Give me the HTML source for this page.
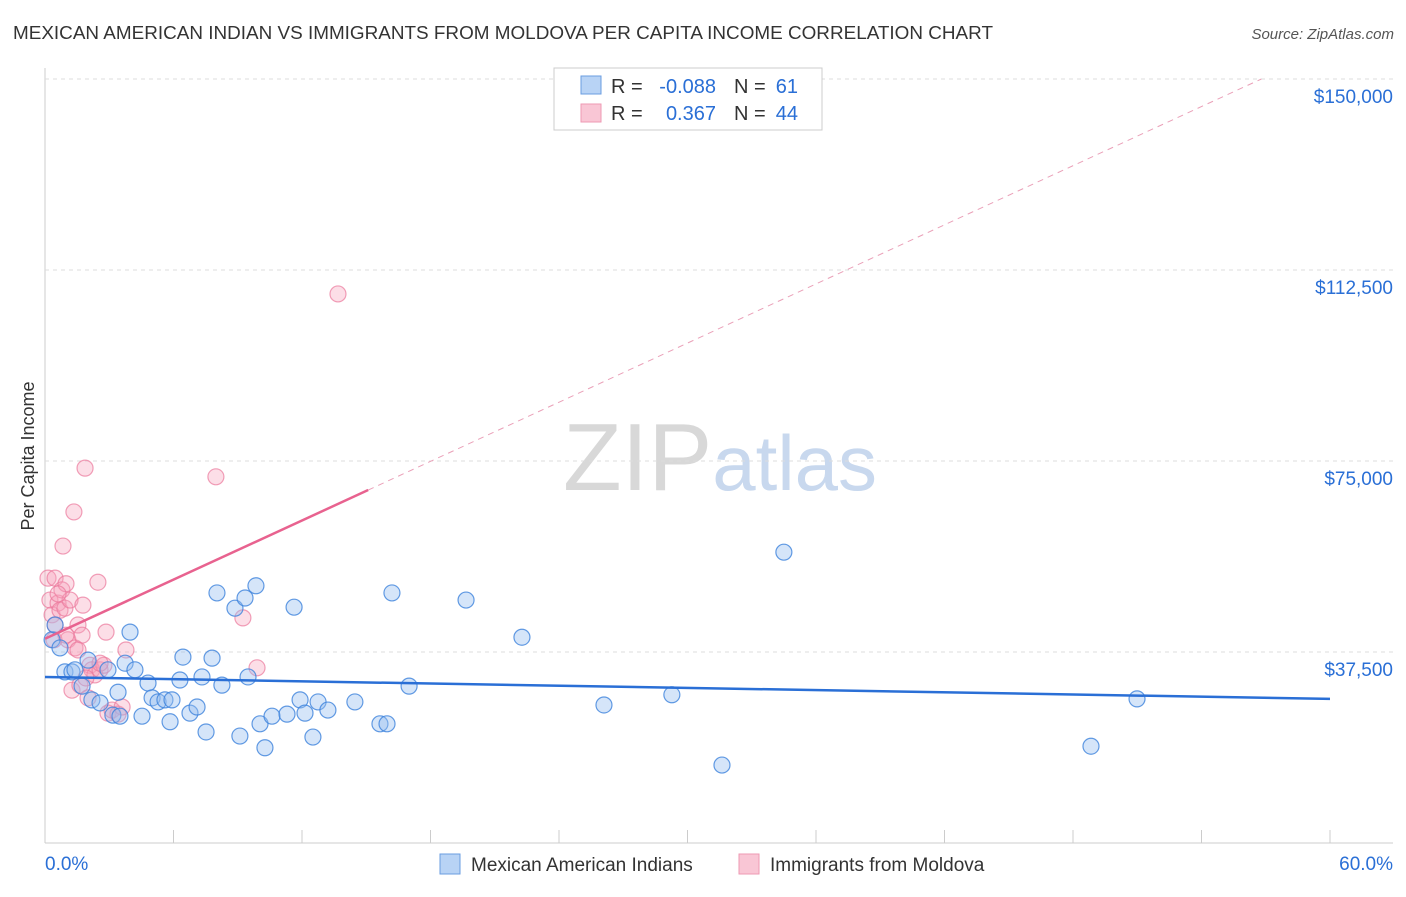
<!DOCTYPE html>
<html><head><meta charset="utf-8"><style>
body{margin:0;background:#fff;font-family:"Liberation Sans",sans-serif;}
svg text{font-family:"Liberation Sans",sans-serif;}
</style></head><body>
<svg id="c" width="1406" height="892" xmlns="http://www.w3.org/2000/svg">
<text x="13" y="39" font-size="18" fill="#333" textLength="980" lengthAdjust="spacingAndGlyphs">MEXICAN AMERICAN INDIAN VS IMMIGRANTS FROM MOLDOVA PER CAPITA INCOME CORRELATION CHART</text>
<text x="1394" y="39" font-size="15" fill="#555" font-style="italic" text-anchor="end">Source: ZipAtlas.com</text>
<text x="34" y="456" font-size="18" fill="#333" transform="rotate(-90 34 456)" text-anchor="middle">Per Capita Income</text>
<text x="720" y="490" font-size="96" fill="#ddd" text-anchor="middle" font-family="Liberation Serif"><tspan fill="#d8d8d8">ZIP</tspan><tspan fill="#c8d8ee" font-family="Liberation Sans" font-size="78">atlas</tspan></text>
<g id="grid"></g><g id="marks"></g>
<g font-size="20">
<rect x="554" y="68" width="268" height="62" fill="#fff" stroke="#ccc"/>
<rect x="581" y="76" width="20" height="18" fill="#b8d3f5" stroke="#6a9de0"/>
<rect x="581" y="104" width="20" height="18" fill="#f9c6d5" stroke="#ee99b3"/>
<text x="611" y="93" fill="#333">R =</text>
<text x="716" y="93" fill="#2a6fd6" text-anchor="end">-0.088</text>
<text x="734" y="93" fill="#333">N =</text>
<text x="798" y="93" fill="#2a6fd6" text-anchor="end">61</text>
<text x="611" y="120" fill="#333">R =</text>
<text x="716" y="120" fill="#2a6fd6" text-anchor="end">0.367</text>
<text x="734" y="120" fill="#333">N =</text>
<text x="798" y="120" fill="#2a6fd6" text-anchor="end">44</text>
</g>
<g>
<rect x="440" y="854" width="20" height="20" fill="#b8d3f5" stroke="#6a9de0"/>
<text x="471" y="871" font-size="19" fill="#333">Mexican American Indians</text>
<rect x="739" y="854" width="20" height="20" fill="#f9c6d5" stroke="#ee99b3"/>
<text x="770" y="871" font-size="19" fill="#333">Immigrants from Moldova</text>
</g>
</svg>
<script>
const blueX=[0.33,0.47,0.70,0.93,1.26,1.40,1.73,2.01,2.19,2.57,2.94,3.17,3.41,3.74,3.97,4.20,4.53,4.81,5.00,5.28,5.60,5.84,5.93,6.30,6.44,6.77,7.10,7.33,7.52,7.80,8.03,8.26,8.87,9.10,9.34,9.48,9.85,10.04,10.27,10.60,11.30,11.63,11.91,12.14,12.51,12.75,13.21,14.47,15.64,15.97,16.20,17.00,19.66,22.27,26.10,29.27,31.61,34.50,48.84,50.99,3.50];
const blueY=[39.9,42.8,38.3,33.6,33.6,34.0,30.8,35.9,28.1,27.5,34.0,25.1,29.6,35.3,41.4,34.0,24.9,31.4,28.5,27.7,28.1,23.8,28.1,32.0,36.5,25.5,26.7,32.6,21.8,36.3,49.1,31.0,46.1,21.0,48.1,32.6,50.5,23.4,18.7,24.9,25.3,46.3,28.1,25.5,20.8,27.7,26.1,27.7,23.4,23.4,49.1,30.8,47.7,40.4,27.1,29.1,15.3,57.1,19.0,28.3,24.9];
const pinkX=[0.14,0.23,0.33,0.47,0.47,0.61,0.70,0.79,0.84,0.93,0.98,1.07,1.17,1.26,1.35,1.40,1.54,1.63,1.73,1.77,1.87,2.01,2.10,2.19,2.33,2.47,2.57,2.75,2.85,2.94,3.13,3.41,3.60,3.78,7.98,9.24,9.90,13.68,0.42,0.61,0.98,1.54,2.57,1.91];
const pinkY=[52.0,47.7,44.8,52.0,42.8,47.1,45.7,49.7,58.3,46.1,50.9,39.9,47.7,30.0,65.0,38.3,42.8,31.0,40.8,46.7,73.6,28.5,34.9,34.0,33.0,51.2,34.0,34.9,41.4,25.5,26.1,25.3,26.7,37.9,71.9,44.2,34.4,107.8,39.9,48.9,40.8,37.9,35.3,32.4];
const blueTrend=[32.6,28.3];   // at x=0 and x=60
const pinkTrend=[40.1,1.935];  // intercept, slope per %
const yTicks=[37.5,75,112.5,150];
const yLabels=["$37,500","$75,000","$112,500","$150,000"];
const xTicks=[0,6,12,18,24,30,36,42,48,54,60];
const sx=v=>45+v/60*1285, sy=v=>843-v/37.5*191;
const NS="http://www.w3.org/2000/svg";
function mk(t,a,p){const e=document.createElementNS(NS,t);for(const k in a)e.setAttribute(k,a[k]);p.appendChild(e);return e;}
const G=document.getElementById('grid'),M=document.getElementById('marks');
mk('line',{x1:45,y1:68,x2:45,y2:843,stroke:'#ccc'},G);
mk('line',{x1:45,y1:843,x2:1393,y2:843,stroke:'#ccc'},G);
yTicks.forEach((v,i)=>{
 const l=mk('line',{x1:45,y1:sy(v),x2:1393,y2:sy(v),stroke:'#ddd','stroke-dasharray':'4,4'},G);
 
 
 const t=mk('text',{x:1393,y:sy(v)+24,'font-size':19,fill:'#2a6fd6','text-anchor':'end'},G);t.textContent=yLabels[i];
 
 
});
xTicks.forEach(v=>{const l=mk('line',{x1:sx(v),y1:830,x2:sx(v),y2:843,stroke:'#ccc'},G);
 
 });
let t=mk('text',{x:45,y:870,'font-size':19,fill:'#2a6fd6'},G);t.textContent='0.0%';


t=mk('text',{x:1393,y:870,'font-size':19,fill:'#2a6fd6','text-anchor':'end'},G);t.textContent='60.0%';


pinkX.forEach((x,i)=>{const c=mk('circle',{cx:sx(x),cy:sy(pinkY[i]),r:8,fill:'rgba(245,160,185,0.35)',stroke:'rgba(235,120,155,0.7)','stroke-width':1.2},M);
 
 });
blueX.forEach((x,i)=>{const c=mk('circle',{cx:sx(x),cy:sy(blueY[i]),r:8,fill:'rgba(150,190,240,0.4)',stroke:'rgba(60,130,220,0.8)','stroke-width':1.2},M);
 
 });
const pe=(150-pinkTrend[0])/pinkTrend[1];
let l=mk('line',{x1:sx(15.09),y1:sy(pinkTrend[0]+pinkTrend[1]*15.09),x2:sx(pe),y2:sy(150),stroke:'#eaa0b8','stroke-width':1,'stroke-dasharray':'6,5'},M);


l=mk('line',{x1:sx(0),y1:sy(pinkTrend[0]),x2:sx(15.09),y2:sy(pinkTrend[0]+pinkTrend[1]*15.09),stroke:'#e8628f','stroke-width':2.5},M);


l=mk('line',{x1:sx(0),y1:sy(blueTrend[0]),x2:sx(60),y2:sy(blueTrend[1]),stroke:'#2a6fd6','stroke-width':2.5},M);


</script>
</body></html>
